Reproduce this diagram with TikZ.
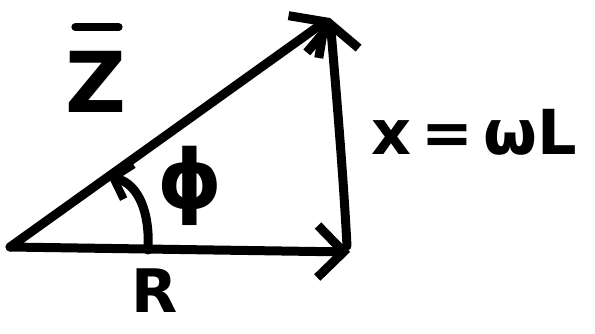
\documentclass[tikz,border=0pt]{standalone}
\usepackage{fontspec}
\setmainfont{DejaVu Sans}
\usetikzlibrary{arrows.meta}
\begin{document}
\begin{tikzpicture}[x=1pt,y=-1pt,
  vec/.style={line width=9pt, line cap=round, line join=round,
    -{Straight Barb[length=26pt,width=52pt,line width=9pt]}},
  lbl/.style={inner sep=0pt, font=\bfseries\fontsize{#1}{#1}\selectfont},
  lbl/.default=70]
\useasboundingbox (0,0) rectangle (595,333);
\coordinate (O) at (10,247);
\coordinate (T) at (330,18);
\coordinate (B) at (347,246);
\coordinate (H) at (350,252);
\coordinate (A1) at (148,250);
\coordinate (A2) at (108,176);
\draw[vec] (O) -- (H);
\draw[vec] (O) -- (T);
\draw[vec] (B) .. controls (343,170) and (336,90) .. (T);
\draw[vec, -{Straight Barb[length=16pt,width=36pt,line width=8pt]}] (A1) .. controls (150,215) and (140,185) .. (A2);
\node[lbl=84] (z) at (96,82) {Z};
\draw[line width=8pt, line cap=round] ([xshift=10pt,yshift=24pt]z.north west) -- ([xshift=-8pt,yshift=24pt]z.north east);
\node[lbl=82] (phi) at (190,186) {ϕ};
\node[lbl=62] (x) at (474,132) {x\,=\,ωL};
\node[lbl=60] (r) at (155,291) {R};
\end{tikzpicture}
\end{document}
